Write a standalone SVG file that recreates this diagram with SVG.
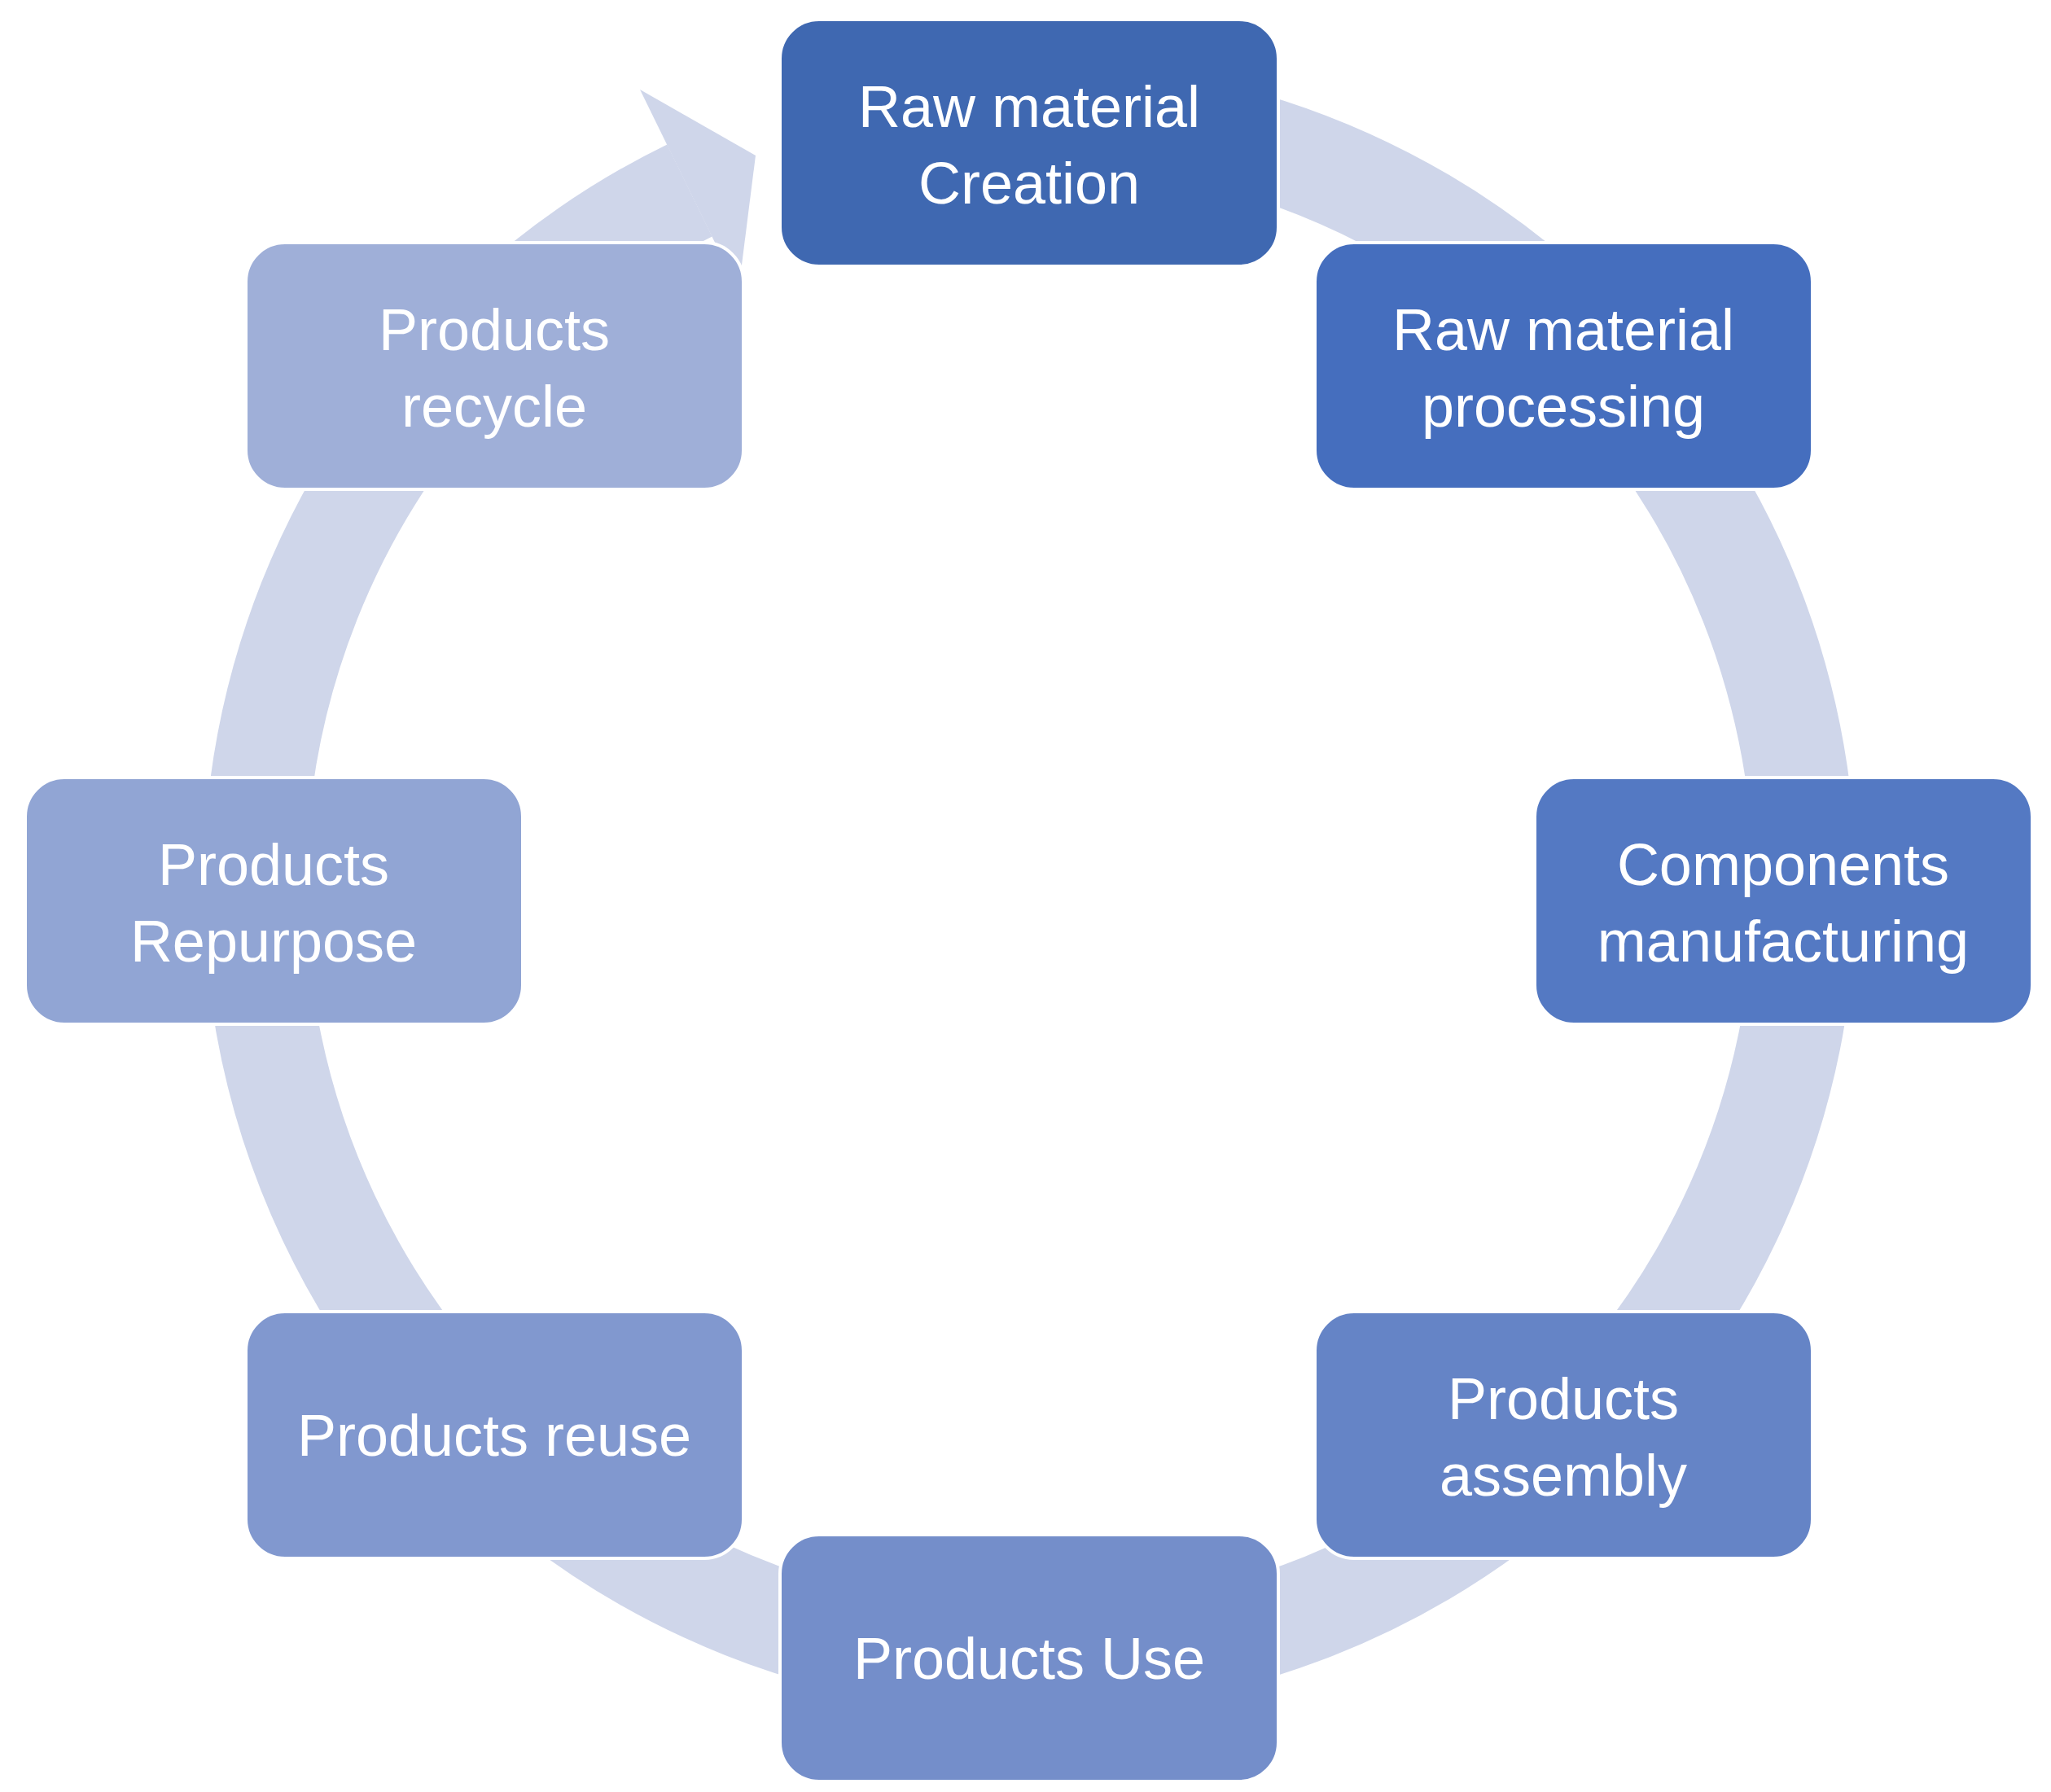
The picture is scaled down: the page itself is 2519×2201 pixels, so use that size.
<svg xmlns="http://www.w3.org/2000/svg" width="2519" height="2201" viewBox="0 0 2519 2201">
<style>
.b{stroke:#fff;stroke-width:4}
.t{font-family:"Liberation Sans",Arial,sans-serif;font-size:72px;fill:#fff;text-anchor:middle}
</style>
<rect width="2519" height="2201" fill="#fff"/>
<g id="connectors">
<path d="M1018 170 A952 952 0 1 1 847 234" fill="none" stroke="#CFD6EA" stroke-width="126"/>
<polygon points="786,110 928,191 907,357" fill="#CFD6EA"/>
</g>
<g id="n1"><rect class="b" x="958" y="24" width="612" height="303" rx="48" fill="#3F68B1"/><text class="t" x="1264" y="156">Raw material</text><text class="t" x="1264" y="250">Creation</text></g>
<g id="n2"><rect class="b" x="1615" y="298" width="611" height="303" rx="48" fill="#456EBE"/><text class="t" x="1920" y="430">Raw material</text><text class="t" x="1920" y="524">processing</text></g>
<g id="n3"><rect class="b" x="1885" y="955" width="611" height="303" rx="48" fill="#5479C3"/><text class="t" x="2190" y="1087">Components</text><text class="t" x="2190" y="1181">manufacturing</text></g>
<g id="n4"><rect class="b" x="1615" y="1611" width="611" height="303" rx="48" fill="#6584C6"/><text class="t" x="1920" y="1743">Products</text><text class="t" x="1920" y="1837">assembly</text></g>
<g id="n5"><rect class="b" x="958" y="1885" width="612" height="303" rx="48" fill="#748ECA"/><text class="t" x="1264" y="2062">Products  Use</text></g>
<g id="n6"><rect class="b" x="302" y="1611" width="611" height="303" rx="48" fill="#8198CF"/><text class="t" x="607" y="1788">Products  reuse</text></g>
<g id="n7"><rect class="b" x="31" y="955" width="611" height="303" rx="48" fill="#91A5D4"/><text class="t" x="336" y="1087">Products</text><text class="t" x="336" y="1181">Repurpose</text></g>
<g id="n8"><rect class="b" x="302" y="298" width="611" height="303" rx="48" fill="#9FAFD8"/><text class="t" x="607" y="430">Products</text><text class="t" x="607" y="524">recycle</text></g>
</svg>
